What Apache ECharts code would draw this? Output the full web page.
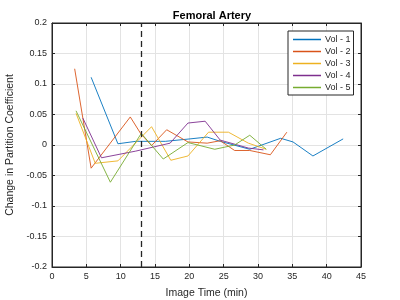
<!DOCTYPE html>
<html>
<head>
<meta charset="utf-8">
<script src="https://cdn.jsdelivr.net/npm/echarts@6/dist/echarts.min.js"></script>
<style>
  html, body { margin: 0; padding: 0; background: #fff; }
  #chart1 { width: 400px; height: 300px; }
</style>
</head>
<body>
<div id="chart1"></div>
<script>
// image times (min) and change in partition coefficient
var t1 = [5.7, 9.6, 12.2, 16.5, 20.1, 22.6, 24.5, 28.8, 33.3, 35.1, 38.0, 42.4];
var v1 = [0.111, 0.002, 0.006, 0.006, 0.010, 0.013, 0.006, -0.007, 0.011, 0.005, -0.018, 0.010];

var t2 = [3.3, 5.7, 11.4, 12.9, 14.5, 16.7, 19.8, 22.6, 24.5, 26.6, 28.8, 31.8, 34.2];
var v2 = [0.125, -0.038, 0.046, 0.019, -0.001, 0.025, 0.005, 0.003, 0.007, -0.009, -0.009, -0.016, 0.021];

var t3 = [3.5, 6.3, 9.6, 14.5, 17.3, 19.8, 22.8, 25.7, 28.6, 31.2];
var v3 = [0.052, -0.030, -0.026, 0.030, -0.025, -0.018, 0.021, 0.021, 0.003, -0.007];

var t4 = [4.5, 7.2, 12.2, 17.2, 19.8, 22.3, 24.5, 28.6, 30.8];
var v4 = [0.044, -0.021, -0.010, 0.003, 0.036, 0.039, 0.008, -0.005, -0.008];

var t5 = [3.5, 8.5, 13.0, 16.2, 19.8, 23.7, 26.6, 28.8, 31.2];
var v5 = [0.056, -0.061, 0.019, -0.023, 0.004, -0.007, 0.000, 0.016, -0.007];

var names = ['Vol - 1', 'Vol - 2', 'Vol - 3', 'Vol - 4', 'Vol - 5'];
var colors = ['#0072BD', '#D95319', '#EDB120', '#7E2F8E', '#77AC30'];
var injectTime = 13;   // dashed vertical marker

window.onload = function () {
    myChart1Init();
}

function pairs(t, v) {
    var d = [];
    for (var i = 0; i < t.length; i++) {
        d.push([t[i], v[i]]);
    }
    return d;
}

function myChart1Init() {
    var myChart1 = echarts.init(document.getElementById('chart1'));
    var allT = [t1, t2, t3, t4, t5];
    var allV = [v1, v2, v3, v4, v5];
    var txt = '#262626';
    var font = 'Liberation Sans';

    var series = [];
    for (var i = 0; i < 5; i++) {
        series.push({
            name: names[i],
            type: 'line',
            data: pairs(allT[i], allV[i]),
            showSymbol: false,
            symbol: 'none',
            lineStyle: { color: colors[i], width: 0.9 },
            itemStyle: { color: colors[i] },
            z: 3
        });
    }
    series[0].markLine = {
        silent: true,
        symbol: 'none',
        label: { show: false },
        lineStyle: { color: '#262626', type: [6, 4], width: 1.3 },
        data: [{ xAxis: injectTime }]
    };

    var option1 = {
        animation: false,
        textStyle: { fontFamily: font },
        title: {
            text: 'Femoral Artery',
            left: 207,
            top: 5,
            textAlign: 'center',
            textStyle: { fontSize: 11, fontWeight: 'bold', color: '#000', fontFamily: font }
        },
        legend: {
            data: names,
            orient: 'vertical',
            left: 288,
            top: 31,
            padding: [4, 3, 3, 5],
            itemGap: 3,
            itemWidth: 28,
            itemHeight: 1.5,
            icon: 'rect',
            backgroundColor: '#fff',
            borderColor: '#262626',
            borderWidth: 1,
            textStyle: { fontSize: 9, color: txt, fontFamily: font, padding: [0, 0, 0, -1] }
        },
        grid: {
            left: 52, right: 39, top: 23, bottom: 33,
            show: true, borderColor: '#262626', borderWidth: 1,
            containLabel: false,
            outerBoundsMode: 'none'
        },
        xAxis: [{
            type: 'value', min: 0, max: 45, interval: 5,
            name: 'Image Time (min)', nameLocation: 'middle', nameGap: 21,
            nameTextStyle: { fontSize: 10.5, color: txt },
            axisLine: { show: true, onZero: false, lineStyle: { color: txt } },
            axisTick: { inside: true, length: 3, lineStyle: { color: txt } },
            axisLabel: { fontSize: 9, color: txt, margin: 5 },
            splitLine: { lineStyle: { color: '#e3e3e3', width: 1 } }
        }, {
            type: 'value', min: 0, max: 45, interval: 5, position: 'top',
            axisLine: { show: true, onZero: false, lineStyle: { color: txt } },
            axisTick: { inside: true, length: 3, lineStyle: { color: txt } },
            axisLabel: { show: false }, splitLine: { show: false }
        }],
        yAxis: [{
            type: 'value', min: -0.2, max: 0.2, interval: 0.05,
            name: 'Change in Partition Coefficient', nameLocation: 'middle', nameGap: 34,
            nameTextStyle: { fontSize: 10.5, color: txt },
            axisLine: { show: true, onZero: false, lineStyle: { color: txt } },
            axisTick: { inside: true, length: 3, lineStyle: { color: txt } },
            axisLabel: { fontSize: 9, color: txt, margin: 5,
                formatter: function (v) { return String(Math.round(v * 100) / 100); } },
            splitLine: { lineStyle: { color: '#e3e3e3', width: 1 } }
        }, {
            type: 'value', min: -0.2, max: 0.2, interval: 0.05, position: 'right',
            axisLine: { show: true, onZero: false, lineStyle: { color: txt } },
            axisTick: { inside: true, length: 3, lineStyle: { color: txt } },
            axisLabel: { show: false }, splitLine: { show: false }
        }],
        series: series
    };

    myChart1.setOption(option1);
}
</script>
</body>
</html>
